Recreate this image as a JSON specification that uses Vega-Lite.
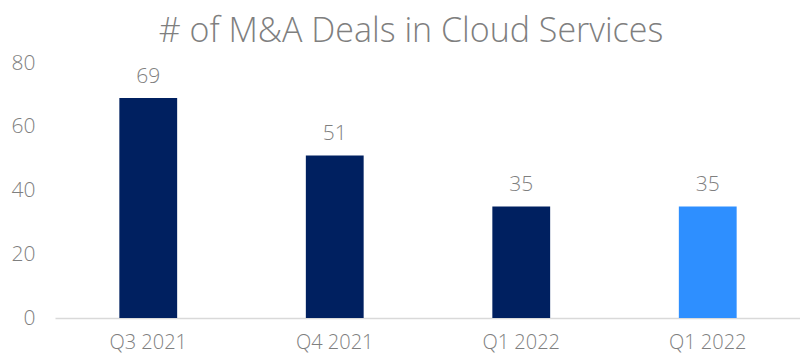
{
  "$schema": "https://vega.github.io/schema/vega-lite/v6.json",
  "width": 746,
  "height": 255,
  "autosize": {"type": "none"},
  "padding": {"left": 55, "top": 63, "right": 0, "bottom": 40},
  "background": "white",
  "title": {
    "text": "# of M&A Deals in Cloud Services",
    "font": "Open Sans",
    "fontWeight": 300,
    "fontSize": 34,
    "color": "#7f7f7f",
    "anchor": "middle",
    "dx": -17,
    "offset": 3
  },
  "data": {
    "values": [
      {"id": 1, "quarter": "Q3 2021", "deals": 69, "kind": "past"},
      {"id": 2, "quarter": "Q4 2021", "deals": 51, "kind": "past"},
      {"id": 3, "quarter": "Q1 2022", "deals": 35, "kind": "past"},
      {"id": 4, "quarter": "Q1 2022", "deals": 35, "kind": "current"}
    ]
  },
  "encoding": {
    "x": {
      "field": "id",
      "type": "ordinal",
      "scale": {"paddingInner": 0.69, "paddingOuter": 0.345},
      "axis": {
        "title": null,
        "labelExpr": "['', 'Q3 2021', 'Q4 2021', 'Q1 2022', 'Q1 2022'][datum.value]",
        "labelAngle": 0,
        "labelFont": "Open Sans",
        "labelFontWeight": 300,
        "labelFontSize": 20,
        "labelColor": "#7f7f7f",
        "labelPadding": 14,
        "ticks": false,
        "tickSize": 0,
        "domainColor": "#d9d9d9",
        "domainWidth": 1.5,
        "grid": false
      }
    },
    "y": {
      "field": "deals",
      "type": "quantitative",
      "scale": {"domain": [0, 80]},
      "axis": {
        "title": null,
        "values": [0, 20, 40, 60, 80],
        "labelFont": "Open Sans",
        "labelFontWeight": 300,
        "labelFontSize": 21,
        "labelColor": "#7f7f7f",
        "labelPadding": 20,
        "ticks": false,
        "tickSize": 0,
        "domain": false,
        "grid": false
      }
    }
  },
  "layer": [
    {
      "mark": {"type": "bar"},
      "encoding": {
        "color": {
          "field": "kind",
          "type": "nominal",
          "scale": {"domain": ["past", "current"], "range": ["#002060", "#2E8FFF"]},
          "legend": null
        }
      }
    },
    {
      "mark": {
        "type": "text",
        "dy": -21,
        "font": "Open Sans",
        "fontWeight": 300,
        "fontSize": 21,
        "color": "#7f7f7f"
      },
      "encoding": {"text": {"field": "deals", "type": "quantitative"}}
    }
  ],
  "config": {"view": {"stroke": null}}
}
